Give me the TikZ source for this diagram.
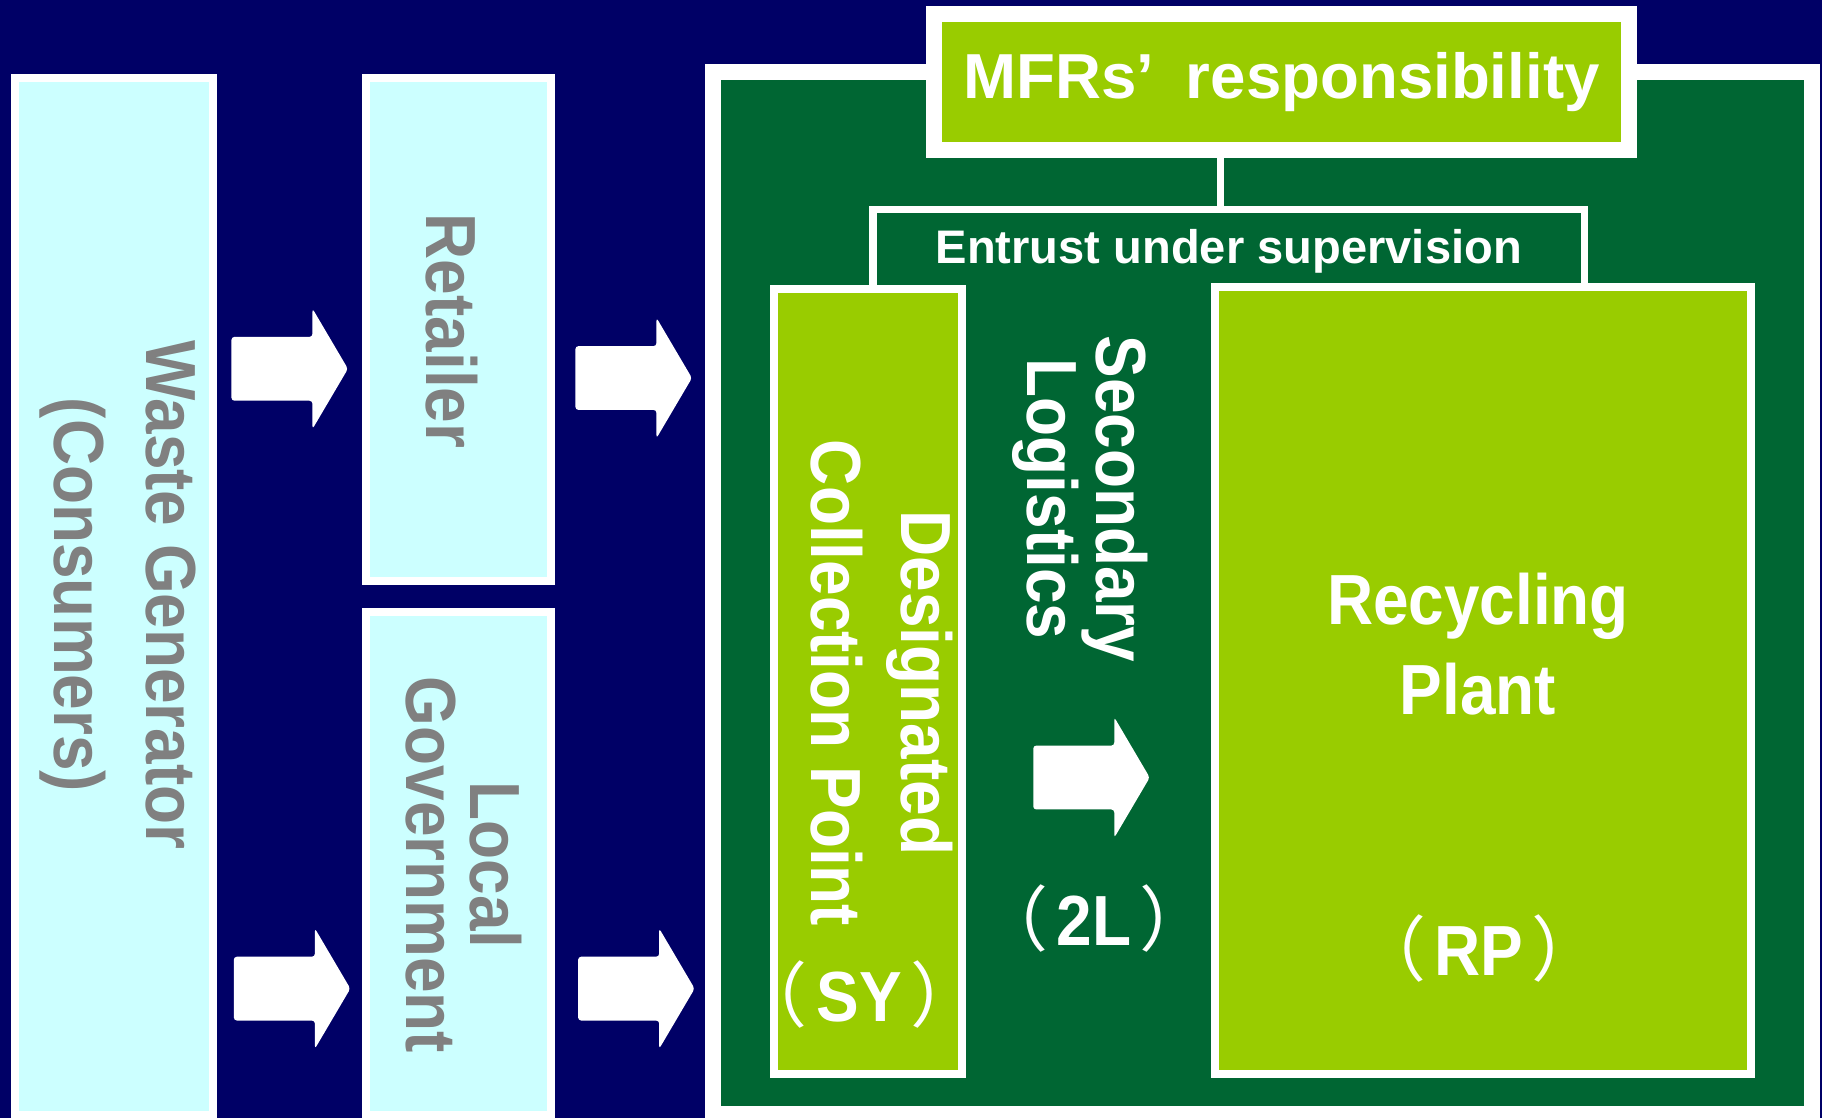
\documentclass[tikz,border=0pt]{standalone}
\usepackage{fontspec}
\setmainfont{Liberation Sans}
\newfontfamily\narrowfont{Liberation Sans}[FakeStretch=0.9]
\newfontfamily\cjkfont{Noto Sans CJK JP}
\usepackage{xcolor}
\usepackage{tikz}
\usetikzlibrary{shapes}
\usetikzlibrary{shapes.arrows}
\definecolor{bgnavy}{RGB}{0,0,102}
\definecolor{boxcyan}{RGB}{204,255,255}
\definecolor{mfrgreen}{RGB}{0,102,51}
\definecolor{rpgreen}{RGB}{153,204,0}
\definecolor{txtgray}{RGB}{128,128,128}
\tikzset{
    Box/.style = {rectangle, draw=white, line width=0.8mm, inner sep=0pt, outer sep=0pt},
    actor/.style = {Box, fill=boxcyan},
    area/.style = {Box, fill=mfrgreen, line width=1.6mm},
    unit/.style = {Box, fill=rpgreen},
    duty/.style = {Box, fill=rpgreen, line width=1.6mm, text=white, font=\bfseries\fontsize{18.1}{21}\selectfont},
    frame/.style = {draw=white, line width=0.75mm},
    link/.style = {draw=white, line width=0.7mm},
    flow/.style = {single arrow, fill=white, inner xsep=0pt, inner ysep=3.12mm, outer sep=0pt, minimum height=11.65mm, minimum width=11.9mm, single arrow head extend=2.83mm, single arrow tip angle=119, rounded corners=0.3mm},
}
\begin{document}
\begin{tikzpicture}[
	x=0.1mm, y=-0.1mm,
	font=\bfseries
]
\tikzset{
    vlabel/.style = {rotate=-90, align=center, inner sep=0pt},
    bigfont/.style = {font=\narrowfont\bfseries\fontsize{20.2}{#1}\selectfont},
    gray/.style = {text=txtgray},
    light/.style = {text=white}
}
\fill[bgnavy] (0,0) rectangle (1822,1118);
\useasboundingbox (0,0) rectangle (1822,1118);
%
\node[actor, minimum width=19.82mm, minimum height=103.65mm] at (113.6,596.25) (waste) {};
\node[actor, minimum width=18.5mm, minimum height=50.3mm] at (458.5,329.5) (retail) {};
\node[actor, minimum width=18.5mm, minimum height=50.3mm] at (458.5,863.5) (local) {};
%
\node[area, minimum width=109.9mm, minimum height=104.25mm] at (1262.5,592.75) (mfr) {};
\node[duty, minimum width=69.58mm, minimum height=13.56mm] at (1281.4,81.8) (duty) {MFRs’\hspace{0.5em}responsibility};
\node[light, inner sep=0pt, minimum width=71.04mm, minimum height=8.22mm, font=\bfseries\fontsize{13.4}{16}\selectfont] at (1228.8,251.5) (entrust) {Entrust under supervision};
\draw[link] ([xshift=-0.8mm]entrust.north) -- ([xshift=-0.8mm]entrust.north |- duty.south);
\draw[frame] (entrust.south west) |- (entrust.north) -| (entrust.south east);
\node[unit, minimum width=18.8mm, minimum height=78.5mm] at (868,681.5) (sy) {};
\node[unit, minimum width=53.6mm, minimum height=78.7mm] at (1483,680.5) (rp) {};
%
\node[vlabel, gray, bigfont=26.4] at (118,595) (wastetxt) {Waste Generator\\(Consumers)};
\node[vlabel, gray, bigfont=24, anchor=base] at (426,331) (retailtxt) {Retailer};
\node[vlabel, gray, bigfont=18] at (463.8,865) (localtxt) {Local\\Government};
\node[vlabel, light, bigfont=25.6] at (881.6,683) (sytxt) {Designated\\Collection Point};
\node[vlabel, light, bigfont=19.9] at (1080.2,499) (sltxt) {Secondary\\Logistics};
\node[light, align=center, inner sep=0pt, bigfont=25.6] at (1478,644.1) (rptxt) {Recycling\\Plant};
%
\node[light, inner sep=0pt, bigfont=24, anchor=base] at (859,1021.4) (sycode) {{\cjkfont\mdseries （}\hspace{0.12em}SY\hspace{0.12em}{\cjkfont\mdseries ）}};
\node[light, inner sep=0pt, bigfont=24, anchor=base] at (1094,945) (slcode) {{\cjkfont\mdseries （}\hspace{0.12em}2L\hspace{0.12em}{\cjkfont\mdseries ）}};
\node[light, inner sep=0pt, bigfont=24, anchor=base] at (1479,975) (rpcode) {{\cjkfont\mdseries （}\hspace{0.12em}RP\hspace{0.12em}{\cjkfont\mdseries ）}};
%
\node[flow] at (280.3,368.8) (f1) {};
\node[flow] at (624.3,378) (f2) {};
\node[flow] at (282.7,988.6) (f3) {};
\node[flow] at (627,988.6) (f4) {};
\node[flow] at (1082.1,777.5) (f5) {};
\end{tikzpicture}
\end{document}
